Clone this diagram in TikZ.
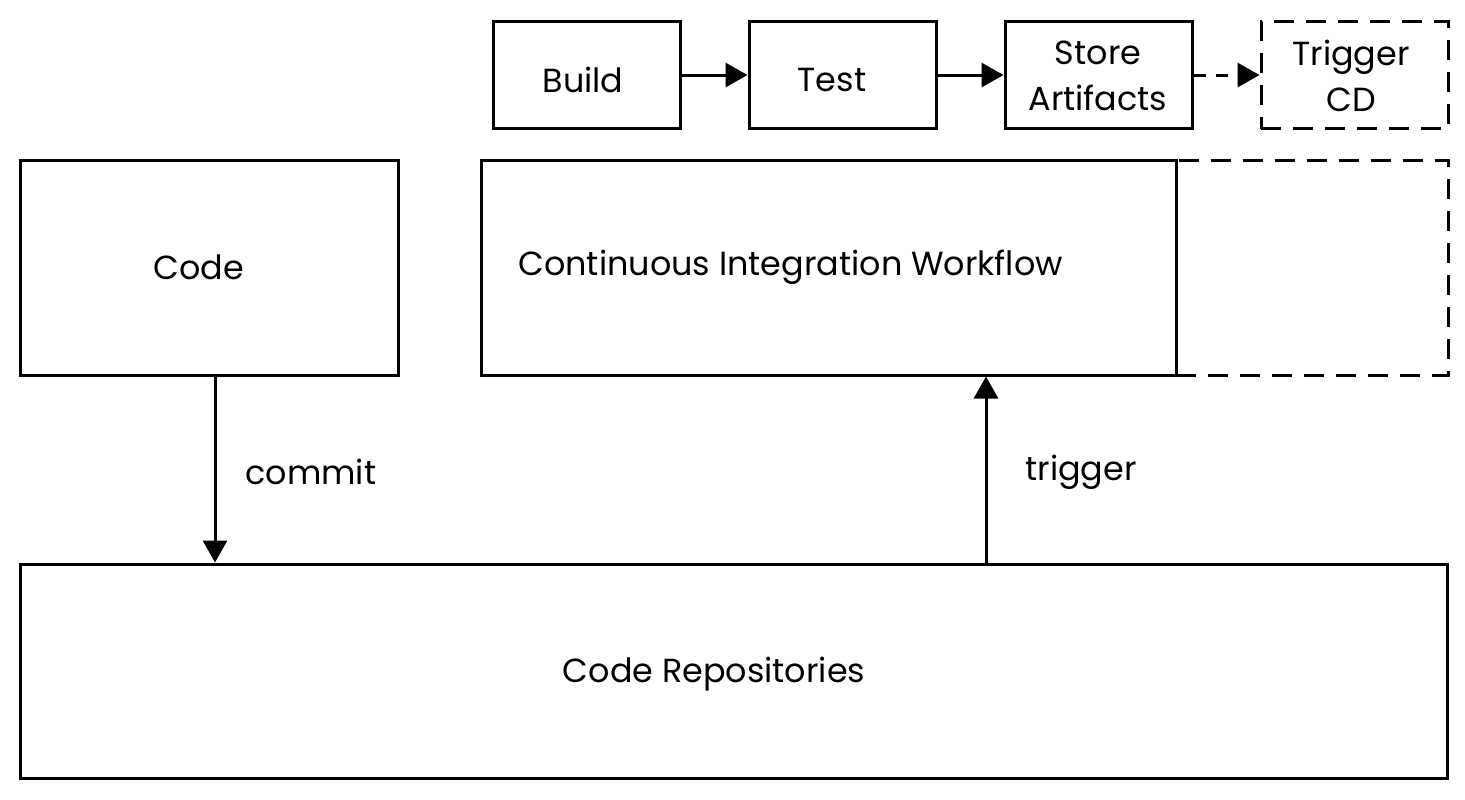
\documentclass[tikz,border=0pt]{standalone}
\usepackage{fontspec}
\setmainfont{Poppins}
\usetikzlibrary{arrows.meta}
\begin{document}
\begin{tikzpicture}[x=0.5pt,y=-0.5pt,
  box/.style={draw=black,line width=1.5pt,rectangle,inner sep=0pt,align=center},
  dbox/.style={box,dash pattern=on 10pt off 6pt},
  arr/.style={line width=1.5pt,-{Triangle[length=11pt,width=12pt]}},
  lbl/.style={font=\fontsize{16.7}{23}\selectfont,inner sep=0pt}]
\useasboundingbox (0,0) rectangle (1465,799);
\node[dbox,minimum width=136pt,minimum height=107.5pt] (ext) at (1312,267.5) {};
\node[box,minimum width=93.5pt,minimum height=53.5pt] (build) at (587,75) {};
\node[lbl] at (583,80) {Build};
\node[box,minimum width=93.5pt,minimum height=53.5pt] (test) at (842.5,75) {};
\node[lbl] at (832,80) {Test};
\node[box,minimum width=93.5pt,minimum height=53.5pt] (store) at (1098.5,75) {};
\node[lbl,align=center] at (1098,76) {Store\\Artifacts};
\node[dbox,minimum width=93.5pt,minimum height=53.5pt] (cd) at (1354.5,75) {};
\node[lbl,align=center] at (1351,76) {Trigger\\CD};
\node[box,minimum width=189pt,minimum height=107.5pt] (code) at (209,267.5) {};
\node[lbl] at (199,267) {Code};
\node[box,fill=white,minimum width=347.5pt,minimum height=107.5pt] (ci) at (828.5,267.5) {};
\node[lbl,anchor=west] at (518,267) {Continuous Integration Workflow};
\node[box,minimum width=713.5pt,minimum height=107pt] (repo) at (733.5,671) {};
\node[lbl] at (714,674) {Code Repositories};
\coordinate (cx) at (215,470);
\coordinate (tx) at (986,470);
\draw[arr] (code.south -| cx) -- (repo.north -| cx);
\draw[arr] (repo.north -| tx) -- (ci.south -| tx);
\draw[arr] (build.east) -- (test.west);
\draw[arr] (test.east) -- (store.west);
\draw[arr,dash pattern=on 6pt off 5pt] (store.east) -- (cd.west);
\node[lbl,anchor=west] at (245,472) {commit};
\node[lbl,anchor=west] at (1025,472) {trigger};
\end{tikzpicture}
\end{document}
